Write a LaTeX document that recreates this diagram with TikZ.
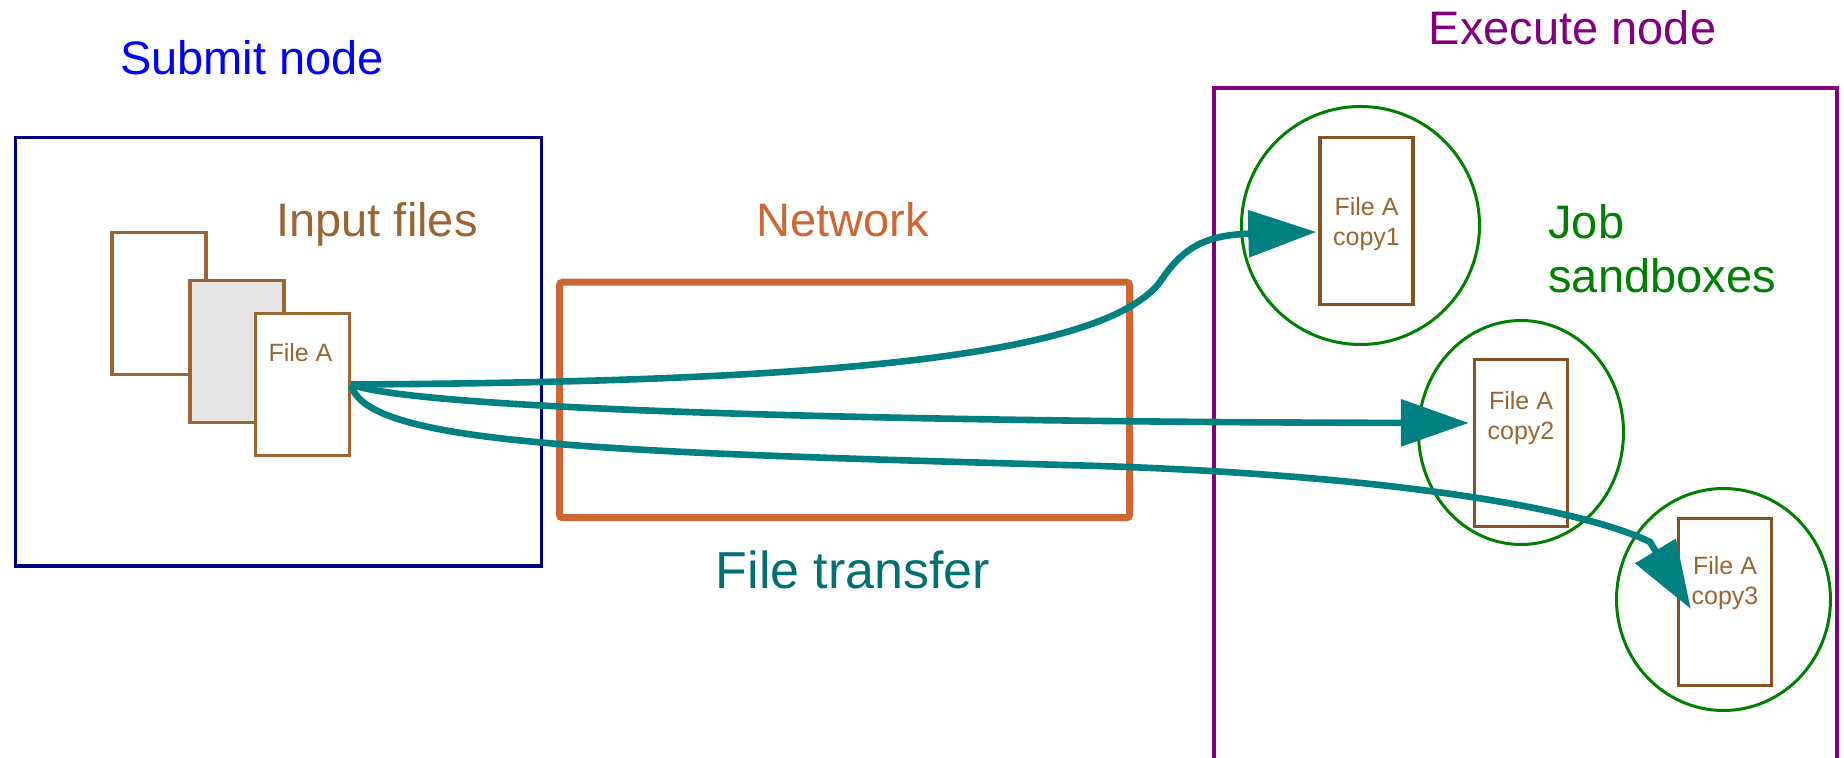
\documentclass[tikz,border=0pt]{standalone}
\usepackage{fontspec}
\setmainfont{Liberation Sans}
\usepackage{tikz}
\usetikzlibrary{
  shapes.geometric,
  arrows.meta,
  positioning,
  calc
}
\definecolor{submitblue}{RGB}{0, 0, 255}
\definecolor{submitnavy}{RGB}{0, 0, 128}
\definecolor{filebrown}{RGB}{153, 102, 51}
\definecolor{copybrown}{RGB}{133, 82, 35}
\definecolor{netorange}{RGB}{204, 102, 51}
\definecolor{xferteal}{RGB}{0, 128, 128}
\definecolor{xfertext}{RGB}{0, 112, 112}
\definecolor{execpurple}{RGB}{128, 0, 128}
\definecolor{boxgreen}{RGB}{0, 128, 0}

\begin{document}
\begin{tikzpicture}[
    x=0.5pt, y=-0.5pt,
    % Heading style for the big labels
    heading/.style={anchor=base, inner sep=0pt, font=\fontsize{23.5}{27}\selectfont},
    % Sheet style for the input files
    sheet/.style={rectangle, draw=filebrown, line width=1.7pt, minimum width=47pt, minimum height=71pt, inner sep=0pt},
    % Sheet style for the copies in the sandboxes
    copysheet/.style={rectangle, draw=copybrown, fill=white, line width=1.7pt, minimum width=46.5pt, minimum height=83.5pt, inner sep=0pt},
    % Label style inside the sheets
    sheetlbl/.style={anchor=north, inner sep=0pt, align=center, text=filebrown, font=\fontsize{12.5}{15}\selectfont},
    % Sandbox ring
    sandbox/.style={ellipse, draw=boxgreen, line width=1.5pt, inner sep=0pt},
    % Transfer curve
    xfer/.style={draw=xferteal, line width=3.3pt, -{Triangle[length=34pt, width=23pt]}}
]
    \useasboundingbox (0,0) rectangle (1844,758);

    % --- SUBMIT NODE (Left) ---
    \node[heading, text=submitblue] (submitlbl) at (252,75) {Submit node};
    \node[rectangle, draw=submitnavy, line width=1.8pt, minimum width=263pt, minimum height=214.3pt] (submit) at (278.5,352) {};
    \node[heading, text=filebrown] (inputlbl) at (377,237) {Input files};

    % Stack of input files
    \node[sheet, fill=white] (sheetA) at (159,303.5) {};
    \node[sheet, fill=black!10] (sheetB) at (237,351.5) {};
    \node[sheet, fill=white] (fileA) at (302.5,384.5) {};
    \node[sheetlbl] (fileAlbl) at ($(fileA.north)+(-2,31)$) {File A};

    % --- NETWORK (Middle) ---
    \node[heading, text=netorange] (netlbl) at (842.5,237) {Network};
    \node[rectangle, draw=netorange, line width=3.5pt, rounded corners=1.5pt, minimum width=285pt, minimum height=117.75pt] (network) at (844.5,400) {};
    \node[heading, text=xfertext, font=\fontsize{26}{30}\selectfont] (xferlbl) at (853,589) {File transfer};

    % --- EXECUTE NODE (Right) ---
    \node[heading, text=execpurple] (execlbl) at (1572.5,45) {Execute node};
    \draw[execpurple, line width=1.7pt] (1214,762) |- (1837,88) -- (1837,762);
    \node[heading, anchor=north west, align=left, text=boxgreen] (joblbl) at (1548,204) {Job\\sandboxes};

    % Sandboxes with one copy each
    \foreach \i/\ex/\ey/\ew/\eh/\bx/\by/\ly in {
        1/1360.5/225.5/119/119/1366.5/221/61,
        2/1521/432.5/102.5/112/1521/443/33,
        3/1723.5/599.5/107/111/1725/602/39} {
        \node[sandbox, minimum width=\ew pt, minimum height=\eh pt] (sandbox\i) at (\ex,\ey) {};
        \node[copysheet] (copy\i) at (\bx,\by) {};
        \node[sheetlbl] (copylbl\i) at ($(copy\i.north)+(0,\ly)$) {File A\\copy\i};
    }

    % --- TRANSFERS ---
    \draw[xfer] (fileA.east) .. controls (800,382) and (1100,360) .. (1160,282)
        .. controls (1180,252) and (1200,235) .. ($(copy1.west)+(-2,11)$);
    \draw[xfer] (fileA.east) .. controls (420,410) and (900,422) .. ($(copy2.west)+(-4,-20)$);
    \draw[xfer] (fileA.east) .. controls (365,445) and (600,452) .. (1100,466)
        .. controls (1400,476) and (1585,510) .. (1650,542) -- ($(copy3.west)+(14,7)$);

\end{tikzpicture}
\end{document}
